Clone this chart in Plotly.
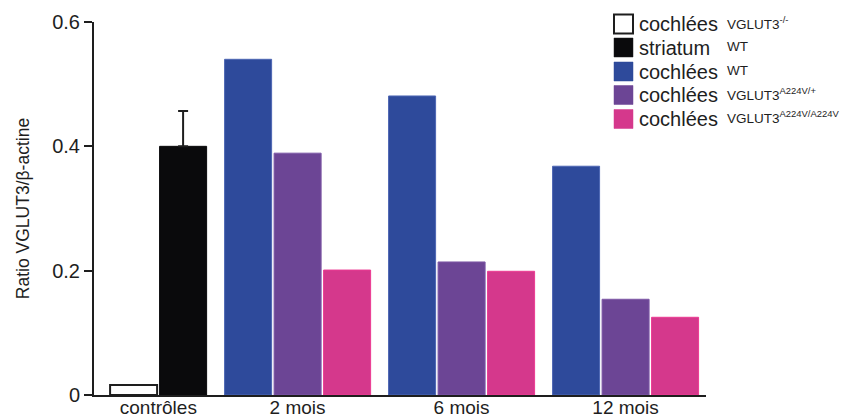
import plotly.graph_objects as go

# data
group_labels = ["contrôles", "2 mois", "6 mois", "12 mois"]
ctrl_ko = [0.016]          # cochlées VGLUT3-/-
ctrl_striatum = [0.400]    # striatum WT
ctrl_striatum_err = [0.057]
wt_values = [0.540, 0.481, 0.368]
het_values = [0.389, 0.214, 0.154]
hom_values = [0.201, 0.199, 0.125]

legend_names = ["cochlées", "striatum", "cochlées", "cochlées", "cochlées"]
legend_geno = ["VGLUT3<sup>-/-</sup>", "WT", "WT",
               "VGLUT3<sup>A224V/+</sup>", "VGLUT3<sup>A224V/A224V</sup>"]

FONT = "Liberation Sans, Arial, Helvetica, sans-serif"
INK = "#1e1e1e"
fill_colors = ["#ffffff", "#0a0a0c", "#2e4a9b", "#6c4595", "#d5388c"]
edge_colors = [INK, "#0a0a0c", "#4d66b3", "#7d58a6", "#ec3a92"]

# slot positions: two control bars, then three groups of three bars
START = 0.8
GAP = 0.313
BAR_W = 0.95


def pos(slot, group):
    return START + slot + GAP * group


ctrl_x = [pos(0, 0), pos(1, 0)]
month_x = [[pos(2 + 3 * g + i, g + 1) for g in range(3)] for i in range(3)]
tick_x = [pos(0.5, 0)] + [pos(3 + 3 * g, g + 1) for g in range(3)]

fig = go.Figure()

fig.add_trace(go.Bar(x=[ctrl_x[0]], y=ctrl_ko, width=BAR_W,
                     marker=dict(color=fill_colors[0], line=dict(color=edge_colors[0], width=2))))
fig.add_trace(go.Bar(x=[ctrl_x[1]], y=ctrl_striatum, width=BAR_W,
                     marker=dict(color=fill_colors[1], line=dict(color=edge_colors[1], width=1)),
                     error_y=dict(type="data", array=ctrl_striatum_err, arrayminus=[0],
                                  symmetric=False, color=INK, thickness=2, width=5)))
for i, vals in enumerate([wt_values, het_values, hom_values]):
    fig.add_trace(go.Bar(x=month_x[i], y=vals, width=BAR_W,
                         marker=dict(color=fill_colors[i + 2],
                                     line=dict(color=edge_colors[i + 2], width=1))))

# legend drawn by hand (square swatches + two text columns)
L, W = 94, 612
T, H = 22, 373


def px_x(p):
    return (p - L) / W


def px_y(p):
    return (T + H - p) / H


shapes = []
annotations = []
row_y = [24, 47.5, 71.5, 95, 119]
for i, ry in enumerate(row_y):
    shapes.append(dict(type="rect", xref="paper", yref="paper",
                       x0=px_x(614), x1=px_x(633), y0=px_y(ry + 9.5), y1=px_y(ry - 9.5),
                       fillcolor=fill_colors[i],
                       line=dict(color=INK if i < 2 else fill_colors[i], width=2 if i == 0 else 0.5)))
    annotations.append(dict(xref="paper", yref="paper", x=px_x(637), y=px_y(ry),
                            text=legend_names[i], showarrow=False, xanchor="left", yanchor="middle",
                            font=dict(family=FONT, size=20, color=INK)))
    annotations.append(dict(xref="paper", yref="paper", x=px_x(725), y=px_y(ry - 1.5),
                            text=legend_geno[i], showarrow=False, xanchor="left", yanchor="middle",
                            font=dict(family=FONT, size=13.5, color=INK)))

fig.update_layout(
    width=847, height=418,
    margin=dict(l=L, r=847 - L - W, t=T, b=418 - T - H),
    plot_bgcolor="white", paper_bgcolor="white",
    barmode="overlay", showlegend=False,
    font=dict(family=FONT, color=INK),
    shapes=shapes, annotations=annotations,
)
fig.update_xaxes(range=[0, W / 49.5], tickvals=tick_x, ticktext=group_labels,
                 showline=True, linecolor=INK, linewidth=2, ticks="",
                 showgrid=False, zeroline=False, tickfont=dict(size=19), automargin=False,
                 ticklabelstandoff=-6)
fig.update_yaxes(range=[0, 0.6], tickvals=[0, 0.2, 0.4, 0.6], ticktext=["0", "0.2", "0.4", "0.6"],
                 showline=True, linecolor=INK, linewidth=2, ticks="outside", ticklen=8,
                 tickwidth=2, tickcolor=INK, showgrid=False, zeroline=False,
                 tickfont=dict(size=20), automargin=False,
                 title=dict(text="Ratio VGLUT3/β-actine", font=dict(size=17.5), standoff=18))

# page body has an 8px default margin; drop it so the figure sits at the window corner
fig.write_html("out.html", config={"displayModeBar": False},
               post_script="document.body.style.margin='0';")
